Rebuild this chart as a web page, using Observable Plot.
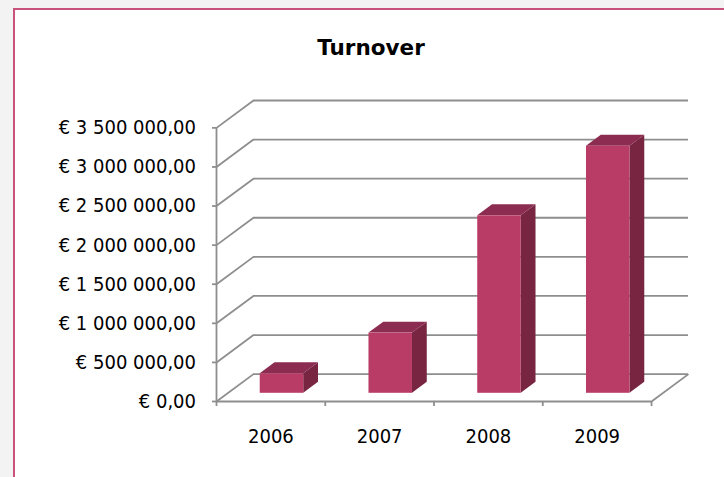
<!DOCTYPE html>
<html><head><meta charset="utf-8">
<script src="https://cdn.jsdelivr.net/npm/d3@7"></script>
<script src="https://cdn.jsdelivr.net/npm/@observablehq/plot@0.6"></script>
<style>
html,body{margin:0;padding:0;background:#f3f3f3;width:724px;height:477px;overflow:hidden;}
#frame{position:absolute;left:13px;top:8px;width:760px;height:520px;background:#fff;border-top:2.5px solid #c9537c;border-left:2.5px solid #c9537c;}
#title{position:absolute;left:0;width:742px;top:35px;text-align:center;font:bold 21.5px "DejaVu Sans";line-height:1.164;color:#000;}
#chart{position:absolute;left:0;top:0;}
</style></head><body>
<div id="frame"></div>
<div id="title">Turnover</div>
<div id="chart"></div>
<script>
// data
const years = ["2006", "2007", "2008", "2009"];
const turnover = [250000, 770000, 2270000, 3160000];
const yTicks = [0, 500000, 1000000, 1500000, 2000000, 2500000, 3000000, 3500000];

// oblique projection constants (depth offsets in data units)
const DX = 0.34, DY = 350000;
const D0 = 0.3, D1 = 0.7;   // bar depth span
const B0 = 0.3, B1 = 0.7;   // bar span within category
const grid = "#8e8e8e", gw = 1.8;
const cFront = "#b93c66", cTop = "#8b2c50", cSide = "#772541";

const fmt = d3.formatLocale({decimal: ",", thousands: " ", grouping: [3], currency: ["€ ", ""]}).format("$,.2f");
const idx = years.map((_, i) => i);
const n = years.length;

const sideData = idx.flatMap(i => [D0, D1].map(d => ({i, x: i + B1 + d * DX, y1: d * DY, y2: turnover[i] + d * DY})));
const topData = idx.flatMap(i => [D0, D1].map(d => ({i, y: turnover[i] + d * DY, x1: i + B0 + d * DX, x2: i + B1 + d * DX})));

const chart = Plot.plot({
  width: 724, height: 477,
  marginLeft: 216, marginRight: 36, marginTop: 100, marginBottom: 76,
  style: {background: "transparent", fontFamily: "DejaVu Sans Condensed", fontSize: "20px", color: "#000", overflow: "visible"},
  x: {type: "linear", domain: [0, n + DX], label: null},
  y: {type: "linear", domain: [0, yTicks[yTicks.length - 1] + DY], label: null},
  marks: [
    // back wall gridlines
    Plot.ruleY(yTicks, {y: d => d + DY, x1: () => DX, x2: () => n + DX, stroke: grid, strokeWidth: gw}),
    // left wall diagonals
    Plot.link(yTicks, {x1: () => 0, y1: d => d, x2: () => DX, y2: d => d + DY, stroke: grid, strokeWidth: gw}),
    // front vertical axis line
    Plot.ruleX([0], {y1: () => 0, y2: () => yTicks[yTicks.length - 1], stroke: grid, strokeWidth: gw}),
    // floor front edge and right edge
    Plot.ruleY([0], {x1: () => 0, x2: () => n, stroke: grid, strokeWidth: gw}),
    Plot.link([n], {x1: d => d, y1: () => 0, x2: d => d + DX, y2: () => DY, stroke: grid, strokeWidth: gw}),
    // axes
    Plot.axisY({ticks: yTicks, tickSize: 4, tickFormat: () => "", stroke: grid, strokeWidth: gw}),
    Plot.axisY({ticks: yTicks, tickSize: 0, tickPadding: 20.5, tickFormat: fmt, fill: "#000"}),
    Plot.axisX({ticks: d3.range(n + 1), tickSize: 5, tickFormat: () => "", stroke: grid, strokeWidth: gw}),
    Plot.axisX({ticks: idx.map(i => i + 0.5), tickSize: 0, tickPadding: 27, tickFormat: d => years[Math.floor(d)], fill: "#000"}),
    // bars: side, top, front
    Plot.areaY(sideData, {x: "x", y1: "y1", y2: "y2", z: "i", fill: cSide}),
    Plot.areaX(topData, {y: "y", x1: "x1", x2: "x2", z: "i", fill: cTop}),
    Plot.rect(idx, {x1: i => i + B0 + D0 * DX, x2: i => i + B1 + D0 * DX, y1: () => D0 * DY, y2: i => turnover[i] + D0 * DY, fill: cFront})
  ]
});
document.getElementById("chart").appendChild(chart);
</script>
</body></html>
